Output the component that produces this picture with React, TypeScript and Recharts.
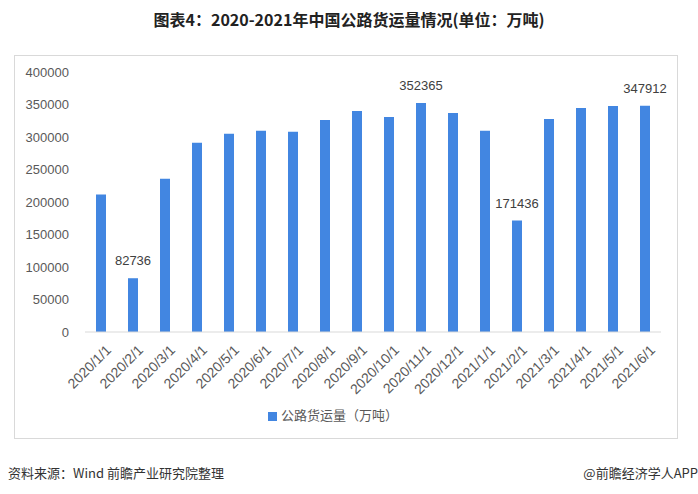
import { BarChart, Bar, XAxis, YAxis, Legend, LabelList } from 'recharts'

const months = [
    '2020/1/1', '2020/2/1', '2020/3/1', '2020/4/1', '2020/5/1', '2020/6/1',
    '2020/7/1', '2020/8/1', '2020/9/1', '2020/10/1', '2020/11/1', '2020/12/1',
    '2021/1/1', '2021/2/1', '2021/3/1', '2021/4/1', '2021/5/1', '2021/6/1',
]
const freight = [
    211400, 82736, 235900, 291100, 304900, 309500,
    307900, 326300, 340100, 330900, 352365, 337000,
    309500, 171436, 327800, 344700, 347700, 347912,
]
// only a few bars carry a value label in the original
const shownLabels = ['', '82736', '', '', '', '', '', '', '', '', '352365', '', '', '171436', '', '', '', '347912']
const yTicks = [0, 50000, 100000, 150000, 200000, 250000, 300000, 350000, 400000]

const SERIES_NAME = '公路货运量（万吨）'
const BLUE = '#4286E1'
const FONT = '"Liberation Sans", "Noto Sans CJK SC", sans-serif'

const data = months.map((m, i) => ({ month: m, value: freight[i], label: shownLabels[i] }))

export default function App() {
    return (
        <div style={{ position: 'absolute', left: 0, top: 0, width: 698, height: 494, background: '#fff', fontFamily: FONT }}>
            <div style={{ position: 'absolute', left: 0, top: 7, width: 698, textAlign: 'center', fontSize: 16, fontWeight: 'bold', color: '#222', fontFamily: '"Noto Sans CJK SC", sans-serif' }}>
                图表4：2020-2021年中国公路货运量情况(单位：万吨)
            </div>

            <div style={{ position: 'absolute', left: 14, top: 55, width: 662, height: 382, border: '1px solid #d9d9d9' }}>
                <BarChart
                    width={662}
                    height={382}
                    data={data}
                    margin={{ top: 16, right: 16, left: 0, bottom: 14 }}
                    barSize={10}
                >
                    <XAxis
                        dataKey="month"
                        interval={0}
                        height={73}
                        tickLine={false}
                        axisLine={{ stroke: '#d9d9d9' }}
                        tick={{ fontSize: 14, fill: '#595959', fontFamily: FONT }}
                        angle={-45}
                        textAnchor="end"
                        dx={4}
                        dy={4}
                    />
                    <YAxis
                        domain={[0, 400000]}
                        ticks={yTicks}
                        width={70}
                        axisLine={false}
                        tickLine={false}
                        tickSize={0}
                        tickMargin={16}
                        tick={{ fontSize: 13, fill: '#595959', fontFamily: FONT }}
                    />
                    <Legend
                        verticalAlign="bottom"
                        iconType="square"
                        iconSize={9}
                        wrapperStyle={{ fontSize: 13, color: '#595959', fontFamily: FONT }}
                        formatter={(v: any) => <span style={{ color: '#595959' }}>{v}</span>}
                    />
                    <Bar dataKey="value" name={SERIES_NAME} fill={BLUE} isAnimationActive={false}>
                        <LabelList dataKey="label" position="top" offset={13} style={{ fontSize: 13, fill: '#404040', fontFamily: FONT }} />
                    </Bar>
                </BarChart>
            </div>

            <div style={{ position: 'absolute', left: 8, top: 463, fontSize: 13, color: '#333', fontFamily: '"Noto Sans CJK SC", sans-serif' }}>
                资料来源：Wind 前瞻产业研究院整理
            </div>
            <div style={{ position: 'absolute', right: 0, top: 463, fontSize: 13, color: '#333', fontFamily: '"Noto Sans CJK SC", sans-serif' }}>
                @前瞻经济学人APP
            </div>
        </div>
    )
}
